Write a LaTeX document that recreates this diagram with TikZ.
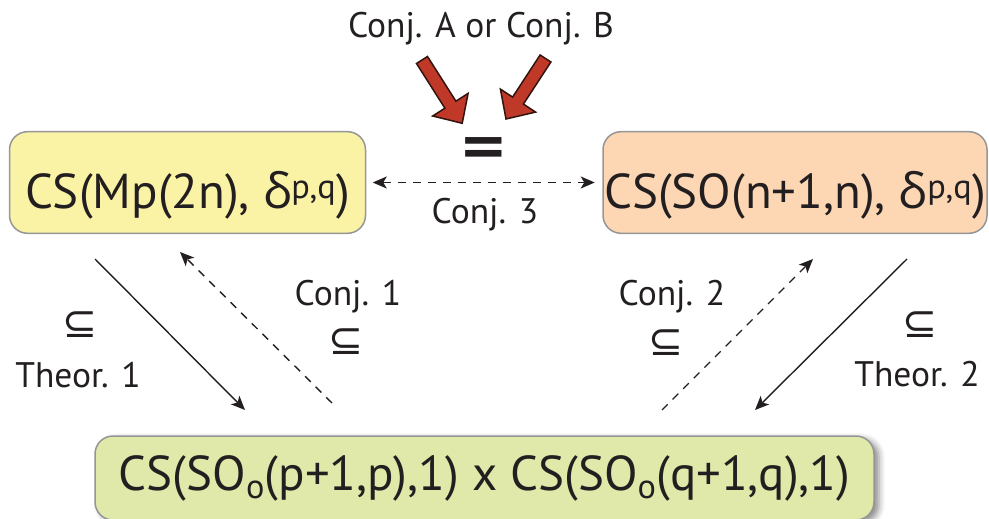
\documentclass[tikz,border=0pt]{standalone}
\usepackage{fontspec}
\setmainfont{PT Sans}
\newfontfamily\grk{Open Sans}
\newfontfamily\dvs{DejaVu Sans}
\usetikzlibrary{arrows.meta,shadows.blur}
\definecolor{txt}{RGB}{35,31,32}
\definecolor{yelfill}{RGB}{250,243,166}
\definecolor{orafill}{RGB}{253,214,180}
\definecolor{grnfill}{RGB}{224,232,170}
\definecolor{boxline}{RGB}{150,150,150}
\definecolor{redfill}{RGB}{192,57,40}
\definecolor{redline}{RGB}{50,20,15}
\tikzset{
  box/.style={draw=boxline, line width=1.5pt, rounded corners=18pt, text=txt, inner sep=0pt},
  bigtxt/.style={font=\fontsize{49}{56}\selectfont},
  lbl/.style={text=txt, font=\fontsize{35.5}{40}\selectfont, inner sep=0pt},
  sub/.style={text=txt, font=\dvs\fontsize{42}{46}\selectfont, inner sep=0pt},
  conn/.style={line width=1.4pt, draw=txt, -{Stealth[length=14pt,width=12pt,inset=3.5pt]}},
  dconn/.style={conn, dash pattern=on 8pt off 7pt},
  blockarrow/.style={fill=redfill, draw=redline, line width=1.5pt, line join=miter},
}
\newcommand{\dl}{{\grk δ}}
\begin{document}
\begin{tikzpicture}[x=1pt,y=-1pt]
\useasboundingbox (0,0) rectangle (989,519);
% boxes
\node[box, fill=yelfill, bigtxt, minimum width=356pt, minimum height=101.6pt,
      text height=56pt, text depth=5pt] (yel) at (187.5,182.5)
      {CS(Mp(2n), \dl\textsuperscript{p,q})};
\node[box, fill=orafill, bigtxt, minimum width=384pt, minimum height=101.6pt,
      text height=56pt, text depth=5pt] (ora) at (795,182.5)
      {CS(SO(n+1,n), \dl\textsuperscript{p,q})};
\node[box, fill=grnfill, font=\fontsize{49}{54}\selectfont, minimum width=779pt, minimum height=84pt,
      text height=34pt, text depth=10pt,
      blur shadow={shadow xshift=5pt, shadow yshift=-3pt, shadow blur radius=6pt, shadow opacity=45}]
      (grn) at (484.5,478)
      {CS(SO\textsubscript{o}(p+1,p),1) x CS(SO\textsubscript{o}(q+1,q),1)};
% top label and equals
\node[lbl, anchor=base] (conjab) at (481,38) {Conj. A or Conj. B};
\node[text=txt, inner sep=0pt, font=\dvs\bfseries\fontsize{58}{60}\selectfont] (eq) at (483.5,152) {=};
% red block arrows
\filldraw[blockarrow] (416.5,63.5) -- (444.9,108.2) -- (432.7,116.0) -- (462.2,123.3)
   -- (468.1,93.4) -- (455.9,101.2) -- (427.5,56.5) -- cycle;
\filldraw[blockarrow] (540.1,55.0) -- (512.6,97.1) -- (500.4,89.1) -- (506,119)
   -- (535.6,112.1) -- (523.4,104.1) -- (550.9,62.0) -- cycle;
% conj 3
\draw[dconn, {Stealth[length=14pt,width=12pt,inset=3.5pt]}-{Stealth[length=14pt,width=12pt,inset=3.5pt]},
      shorten <=6.5pt, shorten >=7.5pt] (yel.east) -- (ora.west);
\node[lbl, anchor=base] (c3) at (485,223) {Conj. 3};
% diagonal connectors
\coordinate (t1a) at (95,259);   \coordinate (t1b) at (245,410);
\coordinate (c1a) at (332,403);  \coordinate (c1b) at (180,252);
\coordinate (c2a) at (662,410);  \coordinate (c2b) at (813,259);
\coordinate (t2a) at (907,259);  \coordinate (t2b) at (755,410);
\draw[conn] (t1a) -- (t1b);
\draw[dconn] (c1a) -- (c1b);
\draw[dconn] (c2a) -- (c2b);
\draw[conn] (t2a) -- (t2b);
% labels
\node[sub] (s1) at (80,325) {⊆};
\node[lbl, anchor=base] (th1) at (78,387) {Theor. 1};
\node[lbl, anchor=base] (cj1) at (348,305) {Conj. 1};
\node[sub] (s2) at (346,342) {⊆};
\node[lbl, anchor=base] (cj2) at (672,305) {Conj. 2};
\node[sub] (s3) at (666,343) {⊆};
\node[sub] (s4) at (920,325) {⊆};
\node[lbl, anchor=base] (th2) at (917,386) {Theor. 2};
\end{tikzpicture}
\end{document}
